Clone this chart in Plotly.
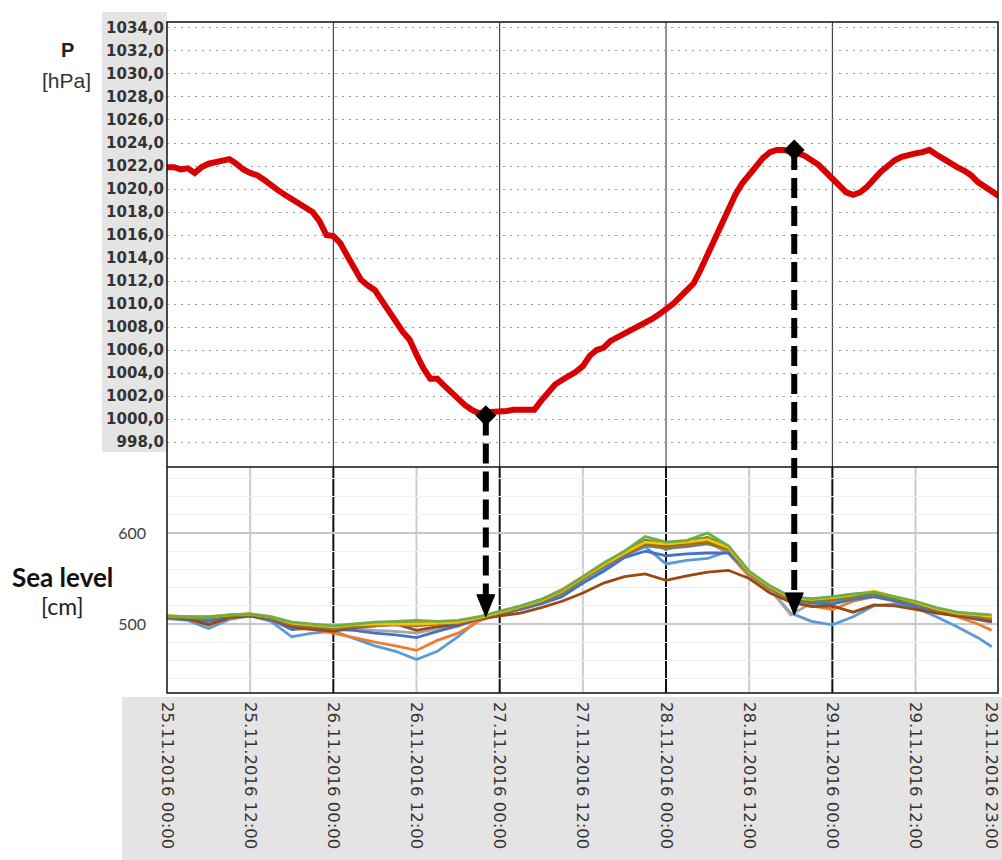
import pandas as pd
import plotly.graph_objects as go

START = pd.Timestamp("2016-11-25 00:00")

# Air pressure, hourly, hours after 25.11.2016 00:00
pressure_hours = list(range(121))
pressure_hpa = [
    1021.9, 1021.9, 1021.7, 1021.8, 1021.4, 1021.9, 1022.2, 1022.3, 1022.4, 1022.6,
    1022.2, 1021.7, 1021.4, 1021.2, 1020.8, 1020.3, 1019.9, 1019.5, 1019.1, 1018.7,
    1018.4, 1018.0, 1017.2, 1016.0, 1015.9, 1015.3, 1014.2, 1013.2, 1012.1, 1011.6,
    1011.2, 1010.3, 1009.5, 1008.5, 1007.6, 1006.9, 1005.6, 1004.4, 1003.5, 1003.5,
    1002.9, 1002.3, 1001.8, 1001.2, 1000.8, 1000.5, 1000.6, 1000.6, 1000.7, 1000.7,
    1000.8, 1000.8, 1000.8, 1000.8, 1001.6, 1002.4, 1003.0, 1003.4, 1003.7, 1004.1,
    1004.6, 1005.5, 1006.0, 1006.2, 1006.8, 1007.1, 1007.5, 1007.7, 1008.0, 1008.4,
    1008.7, 1009.1, 1009.5, 1010.0, 1010.6, 1011.2, 1011.8, 1013.0, 1014.3, 1015.7,
    1017.1, 1018.3, 1019.5, 1020.5, 1021.3, 1022.0, 1022.7, 1023.2, 1023.4, 1023.4,
    1023.3, 1023.1, 1022.9, 1022.5, 1022.1, 1021.5, 1020.9, 1020.3, 1019.7, 1019.5,
    1019.7, 1020.2, 1020.9, 1021.5, 1022.0, 1022.5, 1022.8, 1023.0, 1023.1, 1023.2,
    1023.4, 1023.0, 1022.6, 1022.2, 1021.9, 1021.6, 1021.2, 1020.6, 1020.2, 1019.8,
    1019.4,
]

# Sea level at the tide gauges, every 3 hours (cm)
sea_hours = list(range(0, 118, 3)) + [119]
sea_blue = [506, 504, 495, 505, 509, 503, 486, 490, 492, 484, 476, 470, 461, 470, 486, 505, 511, 516, 523, 533,
            545, 560, 575, 585, 566, 570, 572, 580, 555, 538, 512, 503, 499, 508, 520, 522, 518, 508, 497, 485, 475]
sea_orange = [507, 506, 500, 507, 510, 505, 495, 494, 490, 485, 480, 476, 471, 482, 490, 503, 512, 519, 527, 538,
              552, 566, 580, 590, 582, 587, 590, 578, 552, 536, 525, 520, 516, 525, 530, 526, 520, 514, 508, 500, 493]
sea_gray = [508, 507, 505, 508, 510, 506, 498, 497, 494, 495, 493, 492, 490, 495, 498, 505, 512, 518, 525, 534,
            549, 564, 577, 587, 584, 586, 589, 581, 554, 538, 510, 523, 524, 528, 532, 527, 521, 515, 511, 508, 506]
sea_darkblue = [507, 505, 503, 508, 509, 505, 494, 496, 494, 493, 490, 488, 485, 492, 498, 506, 511, 516, 522, 530,
                545, 558, 573, 580, 575, 577, 578, 578, 556, 539, 527, 523, 522, 527, 530, 525, 519, 513, 509, 505, 502]
sea_brown = [507, 506, 499, 507, 509, 505, 497, 494, 492, 496, 498, 500, 493, 497, 500, 505, 509, 512, 518, 525,
             534, 545, 552, 555, 548, 553, 557, 559, 550, 534, 524, 519, 520, 513, 521, 520, 516, 512, 509, 506, 503]
sea_darkgray = [508, 507, 506, 509, 510, 506, 499, 497, 495, 497, 498, 499, 498, 500, 501, 506, 512, 518, 524, 534,
                549, 563, 576, 586, 583, 585, 588, 582, 555, 539, 527, 524, 526, 529, 533, 528, 522, 516, 511, 508, 506]
sea_olive = [508, 507, 507, 509, 510, 507, 500, 498, 496, 498, 499, 500, 499, 501, 502, 507, 512, 518, 525, 535,
             550, 564, 577, 588, 585, 588, 590, 583, 556, 540, 528, 525, 527, 530, 534, 528, 523, 516, 511, 509, 507]
sea_darkgreen = [509, 508, 507, 510, 511, 507, 501, 499, 497, 499, 501, 501, 502, 502, 503, 507, 513, 519, 526, 536,
                 551, 566, 579, 592, 588, 591, 595, 585, 557, 541, 529, 526, 528, 531, 535, 529, 524, 517, 512, 510, 508]
sea_gold = [509, 508, 508, 510, 511, 508, 501, 499, 497, 499, 500, 500, 500, 501, 502, 507, 513, 519, 526, 536,
            551, 565, 578, 590, 588, 590, 593, 584, 557, 541, 529, 527, 529, 532, 536, 530, 524, 517, 512, 510, 508]
sea_green = [509, 508, 508, 510, 511, 508, 502, 500, 498, 500, 502, 503, 504, 503, 504, 508, 514, 520, 527, 537,
             552, 567, 580, 596, 590, 592, 600, 586, 558, 542, 530, 528, 530, 533, 535, 530, 525, 518, 513, 511, 510]

# Axis ticks
pressure_ticks = [998 + 2 * i for i in range(19)]
sea_ticks = [500, 600]
time_ticks = ["2016-11-25 00:00", "2016-11-25 12:00", "2016-11-26 00:00", "2016-11-26 12:00",
              "2016-11-27 00:00", "2016-11-27 12:00", "2016-11-28 00:00", "2016-11-28 12:00",
              "2016-11-29 00:00", "2016-11-29 12:00", "2016-11-29 23:00"]
time_labels = ["25.11.2016 00:00", "25.11.2016 12:00", "26.11.2016 00:00", "26.11.2016 12:00",
               "27.11.2016 00:00", "27.11.2016 12:00", "28.11.2016 00:00", "28.11.2016 12:00",
               "29.11.2016 00:00", "29.11.2016 12:00", "29.11.2016 23:00"]
day_lines = ["2016-11-26 00:00", "2016-11-27 00:00", "2016-11-28 00:00", "2016-11-29 00:00"]
half_day_lines = ["2016-11-25 12:00", "2016-11-26 12:00", "2016-11-27 12:00",
                  "2016-11-28 12:00", "2016-11-29 12:00"]

# Pressure extremes linked to the sea-level response
arrow_times = ["2016-11-26 22:00", "2016-11-28 18:30"]
arrow_hpa = [1000.3, 1023.4]
arrow_tip_cm = [508, 510]

# Page geometry (pixels)
W, H = 1002, 860
PL, PR, PT, PB = 167, 998, 22, 693
SPLIT = 467
PW, PH = PR - PL, PB - PT
SPLIT_FRAC = (PB - SPLIT) / PH
P_RANGE = [995.83, 1034.52]
S_RANGE = [424.2, 672.5]
T_RANGE = ["2016-11-25 00:00", "2016-11-29 23:54"]


def px_x(x):
    return (x - PL) / PW


def px_y(y):
    return (PB - y) / PH


def top_frac(p):
    return SPLIT_FRAC + (p - P_RANGE[0]) / (P_RANGE[1] - P_RANGE[0]) * (1 - SPLIT_FRAC)


def bottom_frac(s):
    return (s - S_RANGE[0]) / (S_RANGE[1] - S_RANGE[0]) * SPLIT_FRAC


p_times = [START + pd.Timedelta(hours=h) for h in pressure_hours]
s_times = [START + pd.Timedelta(hours=h) for h in sea_hours]

fig = go.Figure()

sea_series = [
    (sea_blue, "#5B9BD5"), (sea_orange, "#ED7D31"), (sea_gray, "#A5A5A5"),
    (sea_darkblue, "#4472C4"), (sea_brown, "#9E480E"), (sea_darkgray, "#7a7a7a"),
    (sea_olive, "#997300"), (sea_darkgreen, "#5f8f3a"), (sea_gold, "#FFC000"),
    (sea_green, "#70AD47"),
]
for values, color in sea_series:
    fig.add_trace(go.Scatter(x=s_times, y=values, mode="lines", xaxis="x", yaxis="y2",
                             line=dict(color=color, width=2.8), hoverinfo="skip"))

fig.add_trace(go.Scatter(x=p_times, y=pressure_hpa, mode="lines", xaxis="x", yaxis="y",
                         line=dict(color="#d80000", width=6), hoverinfo="skip"))

shapes = []
# grey label bands
shapes.append(dict(type="rect", xref="paper", yref="paper", layer="below",
                   x0=px_x(102), x1=px_x(PL), y0=px_y(452), y1=px_y(12),
                   fillcolor="#e4e4e4", line=dict(width=0)))
shapes.append(dict(type="rect", xref="paper", yref="paper", layer="below",
                   x0=px_x(122), x1=px_x(1002), y0=px_y(860), y1=px_y(697),
                   fillcolor="#e4e4e4", line=dict(width=0)))
# vertical time grid
for t in half_day_lines:
    shapes.append(dict(type="line", xref="x", yref="y2 domain", layer="below",
                       x0=t, x1=t, y0=0, y1=1, line=dict(color="#cccccc", width=2)))
for t in day_lines:
    shapes.append(dict(type="line", xref="x", yref="y domain", layer="below",
                       x0=t, x1=t, y0=0, y1=1, line=dict(color="#222222", width=1)))
    shapes.append(dict(type="line", xref="x", yref="y2 domain", layer="below",
                       x0=t, x1=t, y0=0, y1=1, line=dict(color="#111111", width=2)))
# panel frames
shapes.append(dict(type="rect", xref="paper", yref="paper", x0=0, x1=1, y0=0, y1=1,
                   line=dict(color="#111111", width=1.5)))
shapes.append(dict(type="line", xref="paper", yref="paper", x0=0, x1=1,
                   y0=SPLIT_FRAC, y1=SPLIT_FRAC, line=dict(color="#111111", width=1.5)))
# dashed arrows from pressure extremes down to sea level
HEAD = 22
for t, p, s in zip(arrow_times, arrow_hpa, arrow_tip_cm):
    shapes.append(dict(type="line", xref="x", yref="paper", x0=t, x1=t,
                       y0=top_frac(p), y1=bottom_frac(s) + HEAD / PH,
                       line=dict(color="black", width=6, dash="20px,8px")))
    shapes.append(dict(type="path", xref="x", yref="y2", xsizemode="pixel", ysizemode="pixel",
                       xanchor=t, yanchor=s, path=f"M-9,{HEAD} L9,{HEAD} L0,0 Z",
                       fillcolor="black", line=dict(color="black", width=1)))

fig.add_trace(go.Scatter(x=arrow_times, y=arrow_hpa, mode="markers", xaxis="x", yaxis="y",
                         marker=dict(symbol="diamond", size=16, color="black"), hoverinfo="skip"))

annotations = [
    dict(text="<b>P</b>", x=px_x(67), y=px_y(50), font=dict(family="Liberation Sans", size=20, color="#222")),
    dict(text="[hPa]", x=px_x(66), y=px_y(80), font=dict(family="Liberation Sans", size=21, color="#333")),
    dict(text="<b>Sea level</b>", x=px_x(63), y=px_y(577), font=dict(family="Lato", size=26, color="#111")),
    dict(text="[cm]", x=px_x(63), y=px_y(606), font=dict(family="Lato", size=23, color="#222")),
]
for a in annotations:
    a.update(xref="paper", yref="paper", xanchor="center", yanchor="middle", showarrow=False)

fig.update_layout(
    width=W, height=H, autosize=False,
    margin=dict(l=PL, r=W - PR, t=PT, b=H - PB, pad=0, autoexpand=False),
    paper_bgcolor="white", plot_bgcolor="white", showlegend=False,
    shapes=shapes, annotations=annotations,
    xaxis=dict(type="date", range=T_RANGE, anchor="y2", automargin=False,
               tickvals=time_ticks, ticktext=time_labels, tickangle=90, ticklabeloverflow="allow",
               tickfont=dict(family="DejaVu Sans", size=16.5, color="#333"),
               showgrid=False, zeroline=False, showline=False, ticks="", ticklabelstandoff=8),
    yaxis=dict(domain=[SPLIT_FRAC, 1], range=P_RANGE, anchor="x", automargin=False,
               tickvals=pressure_ticks, ticktext=[f"{v:.1f}".replace(".", ",") for v in pressure_ticks],
               tickfont=dict(family="DejaVu Sans", size=15, color="#333", weight="bold"),
               showgrid=True, gridcolor="#9a9a9a", gridwidth=1, griddash="2px,5px",
               zeroline=False, showline=False, ticks="", ticklabelstandoff=2),
    yaxis2=dict(domain=[0, SPLIT_FRAC], range=S_RANGE, anchor="x", automargin=False,
                tickvals=sea_ticks, tickfont=dict(family="Lato", size=16, color="#404040"),
                showgrid=True, gridcolor="#c8c8c8", gridwidth=2,
                minor=dict(dtick=20, showgrid=True, gridcolor="#f1f1f1", gridwidth=1),
                zeroline=False, showline=False, ticks="", ticklabelstandoff=20),
)

fig.write_html("out.html")
